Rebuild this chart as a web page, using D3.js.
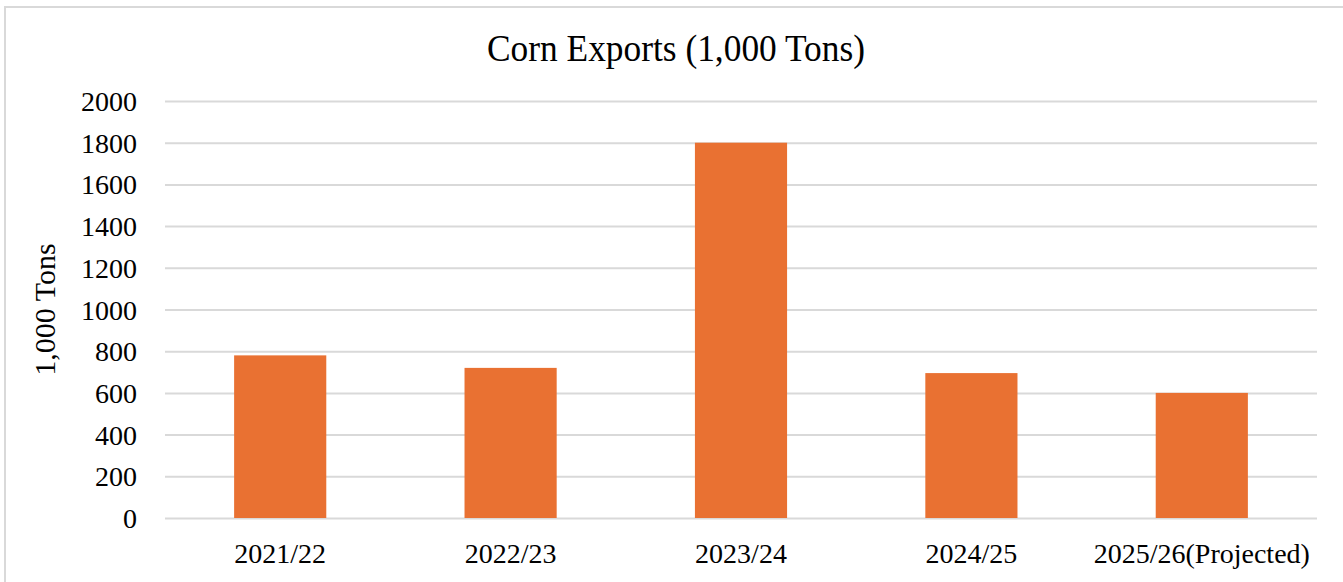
<!DOCTYPE html>
<html>
<head>
<meta charset="utf-8">
<script src="https://cdn.jsdelivr.net/npm/d3@7"></script>
<style>
  html, body { margin: 0; padding: 0; background: #fff; }
  svg { display: block; }
  text { font-family: "Liberation Serif", "Times New Roman", serif; fill: #000; }
</style>
</head>
<body>
<svg id="chart" width="1343" height="582"></svg>
<script>
// Corn exports by marketing year, thousand tons
const categories = ["2021/22", "2022/23", "2023/24", "2024/25", "2025/26(Projected)"];
const exportsValues = [780, 720, 1800, 695, 600];
const yTicks = [0, 200, 400, 600, 800, 1000, 1200, 1400, 1600, 1800, 2000];
const titleText = "Corn Exports (1,000 Tons)";
const yAxisTitle = "1,000 Tons";

const svg = d3.select("#chart");
const W = 1343, H = 582;
const plot = { left: 165, right: 1317, top: 101, bottom: 518 };

// chart frame
svg.append("rect")
  .attr("x", 5).attr("y", 7)
  .attr("width", W + 10).attr("height", H + 10)
  .attr("fill", "#fff")
  .attr("stroke", "#d9d9d9").attr("stroke-width", 2);

const x = d3.scaleBand()
  .domain(categories)
  .range([plot.left, plot.right])
  .paddingInner(0.6)
  .paddingOuter(0.3);

const y = d3.scaleLinear()
  .domain([0, 2000])
  .range([plot.bottom, plot.top]);

// gridlines and value labels
const yAxis = d3.axisLeft(y)
  .tickValues(yTicks)
  .tickSize(-(plot.right - plot.left))
  .tickPadding(28)
  .tickFormat(d3.format("d"));

const gy = svg.append("g")
  .attr("transform", `translate(${plot.left},0)`)
  .call(yAxis);
gy.select(".domain").remove();
gy.selectAll(".tick line").attr("stroke", "#d9d9d9").attr("stroke-width", 2);
gy.selectAll(".tick text")
  .attr("font-size", 28)
  .attr("font-family", "Liberation Serif, serif")
  .attr("fill", "#000")
  .attr("dy", "0.34em");

// bars
svg.append("g")
  .selectAll("rect")
  .data(categories.map((c, i) => ({ c, v: exportsValues[i] })))
  .join("rect")
  .attr("x", d => x(d.c))
  .attr("y", d => y(d.v))
  .attr("width", x.bandwidth())
  .attr("height", d => y(0) - y(d.v))
  .attr("fill", "#e97132");

// category axis
const xAxis = d3.axisBottom(x).tickSize(0).tickPadding(25);
const gx = svg.append("g")
  .attr("transform", `translate(0,${plot.bottom})`)
  .call(xAxis);
gx.select(".domain").remove();
gx.selectAll(".tick text")
  .attr("font-size", 28)
  .attr("font-family", "Liberation Serif, serif")
  .attr("fill", "#000");

// title
svg.append("text")
  .attr("x", (487 + 865) / 2)
  .attr("y", 61)
  .attr("text-anchor", "middle")
  .attr("font-size", 38)
  .attr("textLength", 378)
  .attr("lengthAdjust", "spacingAndGlyphs")
  .text(titleText);

// y axis title
svg.append("text")
  .attr("transform", `translate(55,${(plot.top + plot.bottom) / 2}) rotate(-90)`)
  .attr("text-anchor", "middle")
  .attr("font-size", 30)
  .text(yAxisTitle);
</script>
</body>
</html>
